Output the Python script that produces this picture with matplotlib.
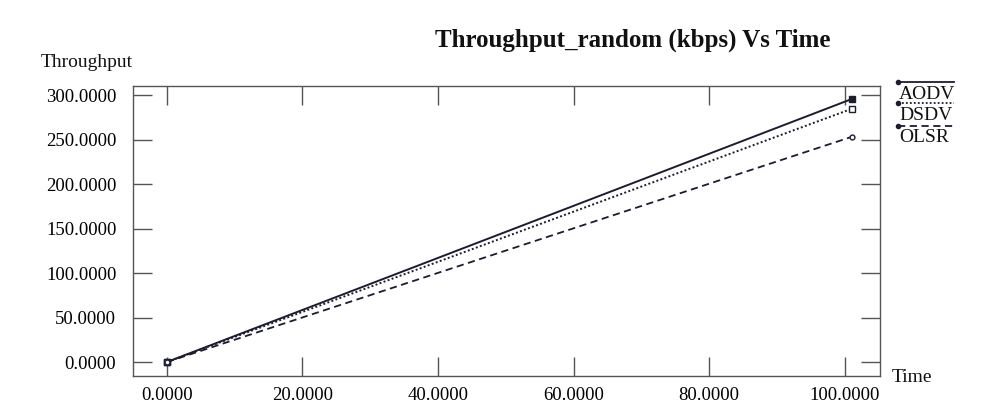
import matplotlib
matplotlib.use('Agg')
from matplotlib import pyplot as plt
from matplotlib.lines import Line2D

plt.rcParams['font.family'] = ['Liberation Serif', 'DejaVu Serif']

# 数据
time = [0.0, 101.0]
aodv = [0.0, 295.5]
dsdv = [0.0, 284.5]
olsr = [0.0, 253.0]
protocols = ['AODV', 'DSDV', 'OLSR']
xticks = [0, 20, 40, 60, 80, 100]
yticks = [0, 50, 100, 150, 200, 250, 300]

ink = '#1c1c30'

fig = plt.figure(figsize=(9.89, 4.2), dpi=100)
ax = fig.add_axes([0.1345, 0.1048, 0.7553, 0.690])

ax.plot(time, aodv, color=ink, lw=1.4, ls='-', marker='s', ms=4, mfc=ink, mec=ink)
ax.plot(time, dsdv, color=ink, lw=1.4, ls=(0, (1, 1.2)), marker='s', ms=4, mfc='white', mec=ink)
ax.plot(time, olsr, color=ink, lw=1.3, ls=(0, (4, 2.5)), marker='o', ms=3.5, mfc='white', mec=ink)

ax.set_xlim(-5, 105.2)
ax.set_ylim(-15.7, 310)
ax.set_xticks(xticks)
ax.set_yticks(yticks)
ax.set_xticklabels(['{:.4f}'.format(v) for v in xticks], fontsize=13.5)
ax.set_yticklabels(['{:.4f}'.format(v) for v in yticks], fontsize=13.5)
ax.tick_params(direction='in', length=14, width=1, color='#555555',
               top=True, right=True, pad=12)
ax.tick_params(axis='x', pad=8)
for s in ax.spines.values():
    s.set_color('#555555')
    s.set_linewidth(1)

fig.text(0.64, 0.903, 'Throughput_random (kbps) Vs Time', fontsize=18,
         fontweight='bold', ha='center', va='center', color='#111111')
fig.text(0.041, 0.852, 'Throughput', fontsize=14, ha='left', va='center', color='#111111')
fig.text(0.902, 0.102, 'Time', fontsize=14, ha='left', va='center', color='#111111')

# 图例
styles = ['-', (0, (1, 1.2)), (0, (4, 2.5))]
line_y = [0.805, 0.755, 0.700]
text_y = [0.774, 0.724, 0.672]
for name, st, ly, ty in zip(protocols, styles, line_y, text_y):
    fig.add_artist(Line2D([0.908, 0.965], [ly, ly], transform=fig.transFigure,
                          color=ink, lw=1.3, ls=st))
    fig.add_artist(Line2D([0.908], [ly], transform=fig.transFigure,
                          marker='o', ms=3, color=ink, ls='none'))
    fig.text(0.909, ty, name, fontsize=14, ha='left', va='center', color='#111111')

fig.savefig('out.png', dpi=100, facecolor='white')
